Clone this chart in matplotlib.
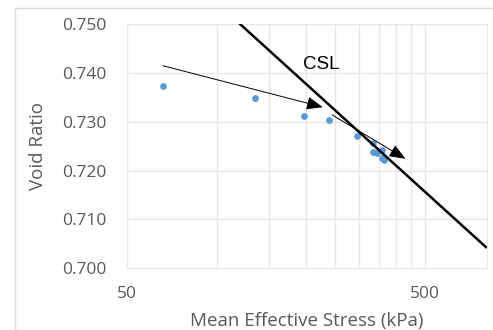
import matplotlib
matplotlib.use("Agg")
import matplotlib.pyplot as plt
from matplotlib.patches import Rectangle
from matplotlib.ticker import FixedLocator, NullFormatter

plt.rcParams["font.family"] = ["Open Sans", "DejaVu Sans"]

# 试验点：平均有效应力 p' (kPa) 与孔隙比 e
p_test = [66, 134, 196, 239, 296, 334, 335, 345, 358, 358, 364]
e_test = [0.7373, 0.7349, 0.7312, 0.7304, 0.7271, 0.7256, 0.7239, 0.7235, 0.7242, 0.7225, 0.7221]

# 临界状态线两端
p_csl = [120, 800]
e_csl = [0.7500, 0.7043]

# 应力路径箭头 (起点, 终点)
arrow_paths = [
    ((66, 0.7415), (227, 0.7330)),
    ((244, 0.7314), (430, 0.7224)),
]

y_ticks = [0.700, 0.710, 0.720, 0.730, 0.740, 0.750]
x_major = [50, 500]
x_minor = [100, 150, 200, 250, 300, 350, 400, 450]

grid_c = "#e8e8e8"
text_c = "#595959"

fig = plt.figure(figsize=(4.93, 3.30), dpi=100)
fig.patches.append(Rectangle((15 / 493, -0.1), 1.2, 1.1 - 8 / 330,
                             transform=fig.transFigure, fill=False,
                             edgecolor="#dcdcdc", lw=1.0))

ax = fig.add_axes([127 / 493, 1 - 268 / 330, 360 / 493, 243.7 / 330])
ax.set_xscale("log")
ax.set_xlim(50, 807)
ax.set_ylim(0.700, 0.750)

ax.xaxis.set_major_locator(FixedLocator(x_major))
ax.xaxis.set_minor_locator(FixedLocator(x_minor))
ax.xaxis.set_major_formatter(plt.FuncFormatter(lambda v, _: f"{v:g}"))
ax.xaxis.set_minor_formatter(NullFormatter())
ax.set_yticks(y_ticks)
ax.set_yticklabels([f"{v:.3f}" for v in y_ticks])

ax.grid(True, which="both", color=grid_c, lw=1.0)
ax.set_axisbelow(True)
for s in ax.spines.values():
    s.set_color(grid_c)
ax.tick_params(which="both", length=0, colors=text_c, labelsize=12.5)
ax.tick_params(axis="y", pad=15)
ax.tick_params(axis="x", pad=13)

ax.scatter(p_test, e_test, s=24, color="#5b9bd5", zorder=3, linewidths=0)
ax.plot(p_csl, e_csl, color="black", lw=1.8, zorder=4)

for (p0, e0), (p1, e1) in arrow_paths:
    ax.annotate("", xy=(p1, e1), xytext=(p0, e0),
                arrowprops=dict(arrowstyle="-|>,head_length=1.0,head_width=0.4",
                                mutation_scale=10, lw=0.7, color="black",
                                shrinkA=0, shrinkB=0), zorder=5)

ax.text(225, 0.7417, "CSL", fontsize=13.5, color="black",
        family=["Liberation Sans"], ha="center", va="center")

fig.text(307 / 493, 1 - 321 / 330, "Mean Effective Stress (kPa)",
         fontsize=13.5, color=text_c, ha="center", va="center")
fig.text(38 / 493, 1 - 146 / 330, "Void Ratio", fontsize=13.5,
         color=text_c, ha="center", va="center", rotation=90)

fig.savefig("out.png", dpi=100)
